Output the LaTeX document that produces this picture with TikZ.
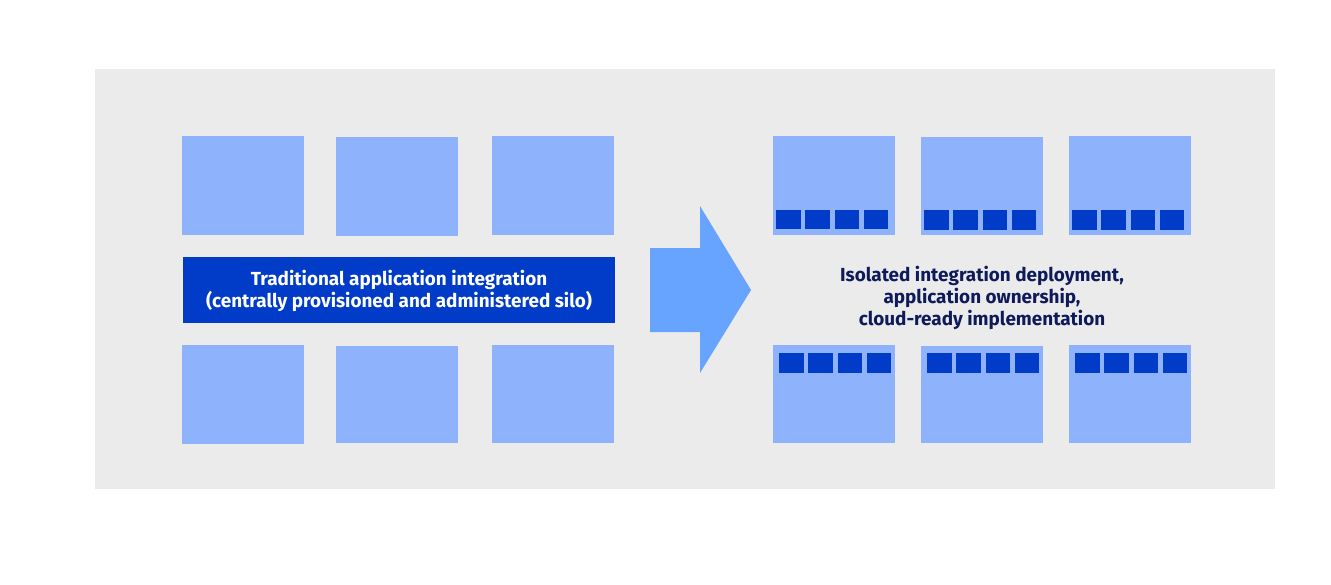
\documentclass[tikz,border=0pt]{standalone}
\usepackage{fontspec}
\setmainfont{Fira Sans}
\begin{document}
\begin{tikzpicture}[x=1pt,y=-1pt,
  lbox/.style={fill=lightblue,draw=none,inner sep=0pt,outer sep=0pt,anchor=north west,minimum width=122pt,minimum height=99pt},
  sq/.style={fill=darkblue,draw=none,inner sep=0pt,outer sep=0pt,anchor=north west,minimum width=24.5pt,minimum height=19.5pt},
  lbl/.style={font=\fontsize{18.9}{22}\selectfont\bfseries,align=center,inner sep=0pt}]
\definecolor{bgray}{HTML}{EBEBEB}
\definecolor{lightblue}{HTML}{8EB2FC}
\definecolor{darkblue}{HTML}{003CC8}
\definecolor{arrowblue}{HTML}{67A4FF}
\definecolor{navy}{HTML}{0E1A5A}
\useasboundingbox (0,0) rectangle (1331,584);
\fill[white] (0,0) rectangle (1331,584);
\node[fill=bgray,inner sep=0pt,outer sep=0pt,anchor=north west,minimum width=1180pt,minimum height=420pt] (bg) at (95,69) {};
% left boxes
\node[lbox] (L1) at (182,136) {};
\node[lbox] (L2) at (336,137) {};
\node[lbox] (L3) at (492,136) {};
\node[lbox] (L4) at (182,345) {};
\node[lbox,minimum height=97pt] (L5) at (336,346) {};
\node[lbox,minimum height=98pt] (L6) at (492,345) {};
% banner
\node[fill=darkblue,inner sep=0pt,outer sep=0pt,anchor=north west,minimum width=432pt,minimum height=66pt] (banner) at (183,257) {};
\node[lbl,text=white] (bannertext) at ([yshift=-1pt]banner.center) {Traditional application integration\\(centrally provisioned and administered silo)};
% arrow
\fill[arrowblue] (650,248) -- (700,248) -- (700,206) -- (751,290) -- (700,373) -- (700,332) -- (650,332) -- cycle;
% right boxes
\node[lbox] (R1) at (773,136) {};
\node[lbox,minimum height=98pt] (R2) at (921,137) {};
\node[lbox] (R3) at (1069,136) {};
\node[lbox,minimum height=98pt] (R4) at (773,345) {};
\node[lbox,minimum height=97pt] (R5) at (921,346) {};
\node[lbox,minimum height=98pt] (R6) at (1069,345) {};
\foreach \bx/\by/\nm in {776/209.5/a,924/210/b,1072/210/c,779/353/d,927/353/e,1075/353/f}{
  \foreach \i in {0,1,2,3}{
    \node[sq] (s\nm\i) at (\bx+29.3*\i,\by) {};
  }
}
\node[lbl,text=navy] (rtext) at (982,297.5) {Isolated integration deployment,\\application ownership,\\cloud-ready implementation};
\end{tikzpicture}
\end{document}
